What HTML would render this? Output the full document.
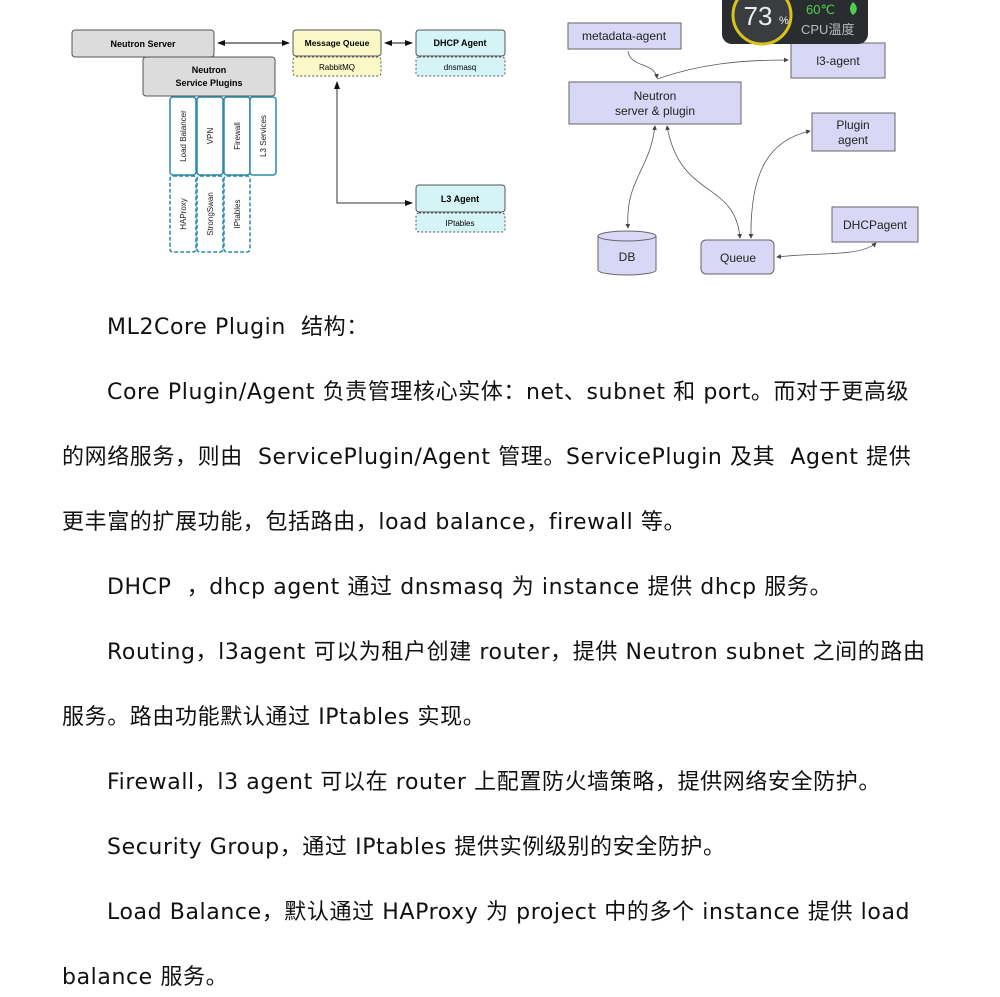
<!DOCTYPE html>
<html><head><meta charset="utf-8"><style>
body{margin:0;width:1000px;height:997px;background:#fff;position:relative;overflow:hidden}
.t{position:absolute;white-space:nowrap;font-family:"DejaVu Sans","Noto Sans CJK SC",sans-serif;font-size:22px;letter-spacing:0.6px;color:#111;line-height:30px}
svg text{font-family:"Liberation Sans",sans-serif}
</style></head><body>
<svg width="1000" height="290" style="position:absolute;left:0;top:0">
<defs>
<marker id="a" markerWidth="8" markerHeight="8" refX="7" refY="4" orient="auto-start-reverse"><path d="M0,1 L8,4 L0,7z" fill="#111"/></marker>
<marker id="s" markerWidth="6" markerHeight="6" refX="5" refY="3" orient="auto-start-reverse"><path d="M0,0 L6,3 L0,6z" fill="#444"/></marker>
</defs>
<rect x="72" y="30" width="142" height="27" rx="3" fill="#dcdcdc" stroke="#555"/>
<text x="143" y="47" font-size="9" font-weight="bold" text-anchor="middle">Neutron Server</text>
<rect x="143" y="57" width="132" height="39" rx="3" fill="#dcdcdc" stroke="#555"/>
<text x="209" y="73" font-size="9" font-weight="bold" text-anchor="middle">Neutron</text>
<text x="209" y="86" font-size="9" font-weight="bold" text-anchor="middle">Service Plugins</text>
<rect x="293" y="30" width="88" height="26" rx="3" fill="#fbf8c8" stroke="#555"/>
<text x="337" y="46" font-size="8.5" font-weight="bold" text-anchor="middle">Message Queue</text>
<rect x="293" y="57" width="88" height="19" rx="3" fill="#fbf8c8" stroke="#555" stroke-dasharray="2,2"/>
<text x="337" y="70" font-size="8" text-anchor="middle">RabbitMQ</text>
<rect x="416" y="30" width="89" height="26" rx="3" fill="#d5f4f6" stroke="#555"/>
<text x="460" y="46" font-size="9" font-weight="bold" text-anchor="middle">DHCP Agent</text>
<rect x="416" y="57" width="89" height="19" rx="3" fill="#d5f4f6" stroke="#555" stroke-dasharray="2,2"/>
<text x="460" y="70" font-size="8" text-anchor="middle">dnsmasq</text>
<rect x="416" y="185" width="89" height="27" rx="3" fill="#d5f4f6" stroke="#555"/>
<text x="460" y="202" font-size="9" font-weight="bold" text-anchor="middle">L3 Agent</text>
<rect x="416" y="213" width="89" height="19" rx="3" fill="#d5f4f6" stroke="#555" stroke-dasharray="2,2"/>
<text x="460" y="226" font-size="8" text-anchor="middle">IPtables</text>
<line x1="218" y1="43" x2="289" y2="43" stroke="#111" marker-start="url(#a)" marker-end="url(#a)"/>
<line x1="385" y1="43" x2="412" y2="43" stroke="#111" marker-start="url(#a)" marker-end="url(#a)"/>
<polyline points="337,82 337,203 412,203" fill="none" stroke="#333" marker-end="url(#a)" marker-start="url(#a)"/>
<g fill="#fff" stroke="#2a8aa8" stroke-width="1.5">
<rect x="170" y="97" width="26" height="78" rx="3"/><rect x="197" y="97" width="26" height="78" rx="3"/>
<rect x="224" y="97" width="26" height="78" rx="3"/><rect x="250" y="97" width="26" height="78" rx="3"/>
<g stroke-dasharray="4,2"><rect x="170" y="176" width="26" height="76" rx="3"/><rect x="197" y="176" width="26" height="76" rx="3"/><rect x="224" y="176" width="26" height="76" rx="3"/></g>
</g>
<g font-size="8" fill="#222">
<text transform="translate(186,136) rotate(-90)" text-anchor="middle">Load Balancer</text>
<text transform="translate(213,136) rotate(-90)" text-anchor="middle">VPN</text>
<text transform="translate(240,136) rotate(-90)" text-anchor="middle">Firewall</text>
<text transform="translate(266,136) rotate(-90)" text-anchor="middle">L3 Services</text>
<text transform="translate(186,214) rotate(-90)" text-anchor="middle">HAProxy</text>
<text transform="translate(213,214) rotate(-90)" text-anchor="middle">StrongSwan</text>
<text transform="translate(240,214) rotate(-90)" text-anchor="middle">IPtables</text>
</g>
<g fill="#d8d8f6" stroke="#666">
<rect x="568" y="23" width="113" height="26"/>
<rect x="791" y="43" width="94" height="35"/>
<rect x="569" y="82" width="172" height="42"/>
<rect x="812" y="113" width="83" height="38"/>
<rect x="832" y="207" width="86" height="35"/>
<rect x="701" y="240" width="73" height="34" rx="5"/>
<path d="M598,236 v34 a29,5 0 0 0 58,0 v-34"/>
<ellipse cx="627" cy="236" rx="29" ry="5"/>
</g>
<g font-size="12" fill="#222" text-anchor="middle">
<text x="624" y="40">metadata-agent</text>
<text x="838" y="65">l3-agent</text>
<text x="655" y="100">Neutron</text>
<text x="655" y="115">server &amp; plugin</text>
<text x="853" y="129">Plugin</text>
<text x="853" y="144">agent</text>
<text x="875" y="229">DHCPagent</text>
<text x="738" y="262">Queue</text>
<text x="627" y="261">DB</text>
</g>
<g fill="none" stroke="#555" stroke-width="0.8">
<path d="M628,51 C630,68 655,62 657,78" marker-end="url(#s)"/>
<path d="M657,79 C700,64 740,60 788,60" marker-end="url(#s)"/>
<path d="M655,126 C650,170 625,180 628,228" marker-start="url(#s)" marker-end="url(#s)"/>
<path d="M667,126 C680,200 735,180 740,238" marker-start="url(#s)" marker-end="url(#s)"/>
<path d="M751,238 C750,170 770,140 810,131" marker-start="url(#s)" marker-end="url(#s)"/>
<path d="M777,257 C820,252 860,257 876,243" marker-start="url(#s)" marker-end="url(#s)"/>
</g>
<rect x="722" y="-10" width="146" height="54" rx="10" fill="#2a2d2f"/>
<circle cx="762" cy="15" r="29" fill="#3a3d40" stroke="#d9c21a" stroke-width="3"/>
<text x="758" y="25" font-size="26" fill="#eee" text-anchor="middle">73</text>
<text x="779" y="24" font-size="11" fill="#eee">%</text>
<text x="806" y="14" font-size="13" fill="#4fd04f">60℃</text>
<path d="M853,2 c5,4 5,10 0,13 c-4,-3 -4,-9 0,-13z" fill="#4fd04f"/>
<text x="801" y="34" font-size="13" fill="#bbb" style="font-family:'Liberation Sans','Noto Sans CJK SC',sans-serif">CPU温度</text>
</svg>
<div class="t" style="left:107px;top:313px">ML2Core Plugin&nbsp; 结构：</div>
<div class="t" style="left:107px;top:378px">Core Plugin/Agent 负责管理核心实体：net、subnet 和 port。而对于更高级</div>
<div class="t" style="left:62px;top:443px">的网络服务，则由&nbsp; ServicePlugin/Agent 管理。ServicePlugin 及其&nbsp; Agent 提供</div>
<div class="t" style="left:62px;top:508px">更丰富的扩展功能，包括路由，load balance，firewall 等。</div>
<div class="t" style="left:107px;top:573px">DHCP&nbsp; ，dhcp agent 通过 dnsmasq 为 instance 提供 dhcp 服务。</div>
<div class="t" style="left:107px;top:638px">Routing，l3agent 可以为租户创建 router，提供 Neutron subnet 之间的路由</div>
<div class="t" style="left:62px;top:703px">服务。路由功能默认通过 IPtables 实现。</div>
<div class="t" style="left:107px;top:768px">Firewall，l3 agent 可以在 router 上配置防火墙策略，提供网络安全防护。</div>
<div class="t" style="left:107px;top:833px">Security Group，通过 IPtables 提供实例级别的安全防护。</div>
<div class="t" style="left:107px;top:898px">Load Balance，默认通过 HAProxy 为 project 中的多个 instance 提供 load</div>
<div class="t" style="left:62px;top:963px">balance 服务。</div>
</body></html>
